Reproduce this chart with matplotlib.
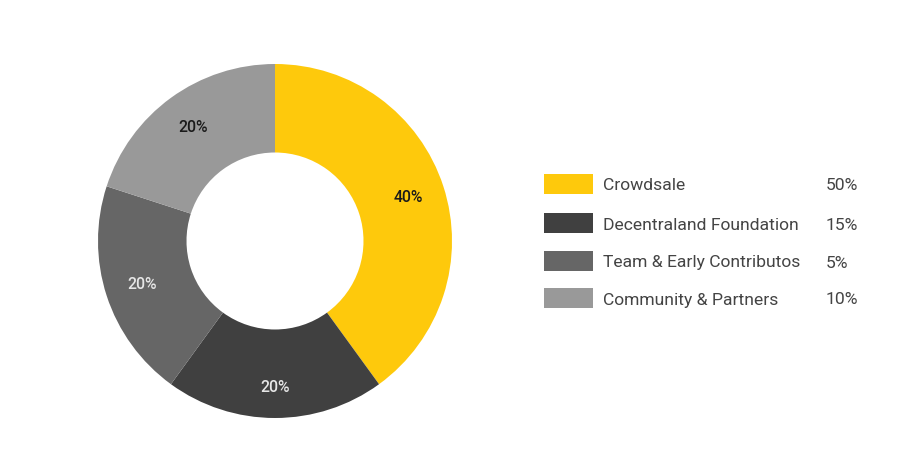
import matplotlib.pyplot as plt
from matplotlib.patches import Rectangle
import numpy as np

plt.rcParams['font.family'] = ['Roboto', 'DejaVu Sans']

# donut slices (clockwise from top)
slice_pcts = [40, 20, 20, 20]
slice_colors = ["#fec90c", "#404040", "#666666", "#999999"]
slice_text_colors = ["#1a1a1a", "#e6e6e6", "#e6e6e6", "#1a1a1a"]

# legend entries
legend_names = ["Crowdsale", "Decentraland Foundation",
                "Team & Early Contributos", "Community & Partners"]
legend_pcts = ["50%", "15%", "5%", "10%"]

W, H = 897, 469
fig = plt.figure(figsize=(W / 100, H / 100), dpi=100)
fig.patch.set_facecolor("white")

# pie axes: center (275, 241) px, radius 177 px
cx, cy, r = 275, 241, 177
ax = fig.add_axes([(cx - r) / W, (H - cy - r) / H, 2 * r / W, 2 * r / H])
wedges, _ = ax.pie(slice_pcts, colors=slice_colors, startangle=90,
                   counterclock=False, radius=1.0,
                   wedgeprops=dict(width=0.5, linewidth=0))
for w, p, tc in zip(wedges, slice_pcts, slice_text_colors):
    ang = np.deg2rad((w.theta1 + w.theta2) / 2)
    rr = 0.79 if p != 20 or abs(np.cos(ang)) > 0.3 else 0.83
    ax.text(rr * np.cos(ang), rr * np.sin(ang), f"{p}%", ha="center",
            va="center", fontsize=11.3, fontweight="medium", color=tc)
ax.set_xlim(-1, 1)
ax.set_ylim(-1, 1)
ax.set_aspect("equal")
ax.axis("off")

# legend, laid out in pixel coordinates
lax = fig.add_axes([0, 0, 1, 1])
lax.set_xlim(0, W)
lax.set_ylim(H, 0)
lax.axis("off")
row_y = [184, 223, 261, 298]
for y, name, pct, col in zip(row_y, legend_names, legend_pcts, slice_colors):
    lax.add_patch(Rectangle((544, y - 10), 49, 20, facecolor=col, linewidth=0))
    lax.text(603, y + 2, name, ha="left", va="center", fontsize=12.6, color="#444444")
    lax.text(826, y + 2, pct, ha="left", va="center", fontsize=12.6, color="#444444")

fig.savefig("out.png", dpi=100)
